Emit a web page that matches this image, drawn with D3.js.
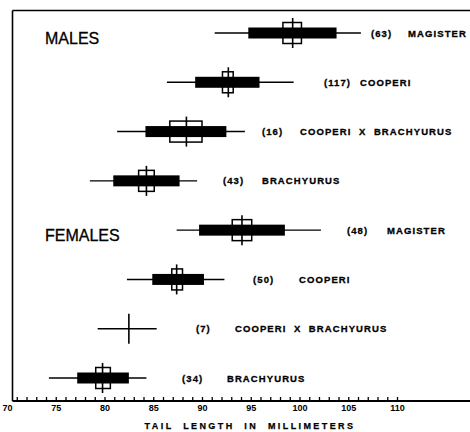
<!DOCTYPE html>
<html><head><meta charset="utf-8">
<script src="https://cdn.jsdelivr.net/npm/d3@7/dist/d3.min.js"></script>
<style>body{margin:0;background:#fff}svg{display:block}</style>
</head><body><svg id="c" width="470" height="432"></svg>
<script>
// ---- data (tail length, mm) ----
const sections  = ["MALES", "FEMALES"];
const sectionRow = [0, 4];
const names   = ["MAGISTER", "COOPERI", "COOPERI  X  BRACHYURUS", "BRACHYURUS",
                 "MAGISTER", "COOPERI", "COOPERI  X  BRACHYURUS", "BRACHYURUS"];
const counts  = [63, 117, 16, 43, 48, 50, 7, 34];
const rangeMin = [91.3, 86.4, 81.3, 78.5, 87.4, 82.3, 79.3, 74.3];
const rangeMax = [106.3, 99.4, 94.4, 89.5, 102.2, 92.3, 85.35, 84.3];
const sdLow    = [94.75, 89.3, 84.2, 80.9, 89.7, 84.9, null, 77.2];
const sdHigh   = [103.8, 95.9, 92.5, 87.7, 98.5, 90.2, null, 82.5];
const seLow    = [98.3, 92.1, 86.7, 83.5, 93.1, 86.9, null, 79.1];
const seHigh   = [100.2, 93.2, 90.0, 85.1, 95.1, 88.0, null, 80.6];
const means    = [99.3, 92.7, 88.4, 84.3, 94.1, 87.4, 82.5, 79.8];
const tickLabels = [70, 75, 80, 85, 90, 95, 100, 105, 110];
const minorTicks = d3.range(71, 111);
// label anchor positions (in mm along the axis)
const countLabelAt = [107.33, 102.5, 96.15, 92.15, 104.87, 95.23, 89.38, 87.95];
const nameLabelAt  = [111.13, 106.2, 100.05, 96.15, 108.97, 99.95, 93.38, 92.56];

// ---- layout ----
const svg = d3.select("#c");
const x = d3.scaleLinear().domain([70, 110]).range([7, 397]);
const y = d3.scalePoint().domain(d3.range(names.length)).range([33, 378]);
const frameL = 12.5, frameT = 10.5, axisY = 401;
const barH = 11, boxH = 21, meanH = 30;

// frame
svg.append("line").attr("x1", frameL).attr("x2", frameL).attr("y1", frameT).attr("y2", axisY)
  .attr("stroke", "#000").attr("stroke-width", 1.6);
svg.append("line").attr("x1", frameL).attr("x2", 470).attr("y1", frameT).attr("y2", frameT)
  .attr("stroke", "#000").attr("stroke-width", 1.6);
svg.append("line").attr("x1", frameL).attr("x2", 470).attr("y1", axisY).attr("y2", axisY)
  .attr("stroke", "#000").attr("stroke-width", 2);

// axis ticks (upward minor ticks) and labels
const gMinor = svg.append("g").attr("transform", `translate(0,${axisY})`)
  .call(d3.axisBottom(x).tickValues(minorTicks).tickSize(-4).tickFormat(""));
gMinor.select(".domain").remove();
gMinor.selectAll(".tick line").attr("stroke", "#000").attr("stroke-width", 1.3);

const gLab = svg.append("g").attr("transform", `translate(0,${axisY})`)
  .call(d3.axisBottom(x).tickValues(tickLabels).tickSize(0).tickPadding(4).tickFormat(d3.format("d")));
gLab.select(".domain").remove();
gLab.selectAll("text").attr("font-family", "Liberation Sans, Arial, sans-serif")
  .attr("font-weight", "bold").attr("font-size", 9).attr("fill", "#000");

svg.append("text").attr("x", 250).attr("y", 429).attr("text-anchor", "middle")
  .attr("font-family", "Liberation Sans, Arial, sans-serif").attr("font-weight", "bold")
  .attr("font-size", 9).attr("letter-spacing", 2.4).style("white-space", "pre")
  .attr("stroke", "#000").attr("stroke-width", 0.25)
  .text("TAIL  LENGTH  IN  MILLIMETERS");

// section titles
svg.selectAll("text.sec").data(sections).join("text").attr("class", "sec")
  .attr("x", 45).attr("y", (d, i) => y(sectionRow[i]) + 11)
  .attr("font-family", "Liberation Sans, Arial, sans-serif").attr("font-size", 16)
  .attr("stroke", "#000").attr("stroke-width", 0.3)
  .attr("fill", "#000").text(d => d);

// rows
const rows = d3.range(names.length);
const g = svg.append("g");
g.selectAll("line.range").data(rows).join("line").attr("class", "range")
  .attr("x1", i => x(rangeMin[i])).attr("x2", i => x(rangeMax[i]))
  .attr("y1", i => y(i)).attr("y2", i => y(i))
  .attr("stroke", "#000").attr("stroke-width", 1.4);
g.selectAll("rect.sd").data(rows.filter(i => sdLow[i] != null)).join("rect").attr("class", "sd")
  .attr("x", i => x(sdLow[i])).attr("width", i => x(sdHigh[i]) - x(sdLow[i]))
  .attr("y", i => y(i) - barH / 2).attr("height", barH).attr("fill", "#000");
g.selectAll("rect.se").data(rows.filter(i => seLow[i] != null)).join("rect").attr("class", "se")
  .attr("x", i => x(seLow[i])).attr("width", i => x(seHigh[i]) - x(seLow[i]))
  .attr("y", i => y(i) - boxH / 2).attr("height", boxH)
  .attr("fill", "none").attr("stroke", "#000").attr("stroke-width", 1.5);
g.selectAll("line.mean").data(rows).join("line").attr("class", "mean")
  .attr("x1", i => x(means[i])).attr("x2", i => x(means[i]))
  .attr("y1", i => y(i) - meanH / 2).attr("y2", i => y(i) + meanH / 2)
  .attr("stroke", "#000").attr("stroke-width", 1.6);

// labels
const lab = svg.append("g").attr("font-family", "Liberation Sans, Arial, sans-serif")
  .attr("font-weight", "bold").attr("font-size", 9.5).attr("fill", "#000")
  .attr("stroke", "#000").attr("stroke-width", 0.3);
lab.selectAll("text.n").data(rows).join("text").attr("class", "n")
  .attr("x", i => x(countLabelAt[i])).attr("y", i => y(i) + 3.5)
  .attr("letter-spacing", 1.1).text(i => `(${counts[i]})`);
lab.selectAll("text.nm").data(rows).join("text").attr("class", "nm")
  .attr("x", i => x(nameLabelAt[i])).attr("y", i => y(i) + 3.5)
  .attr("letter-spacing", 1.1).style("white-space", "pre").text(i => names[i]);
</script></body></html>
